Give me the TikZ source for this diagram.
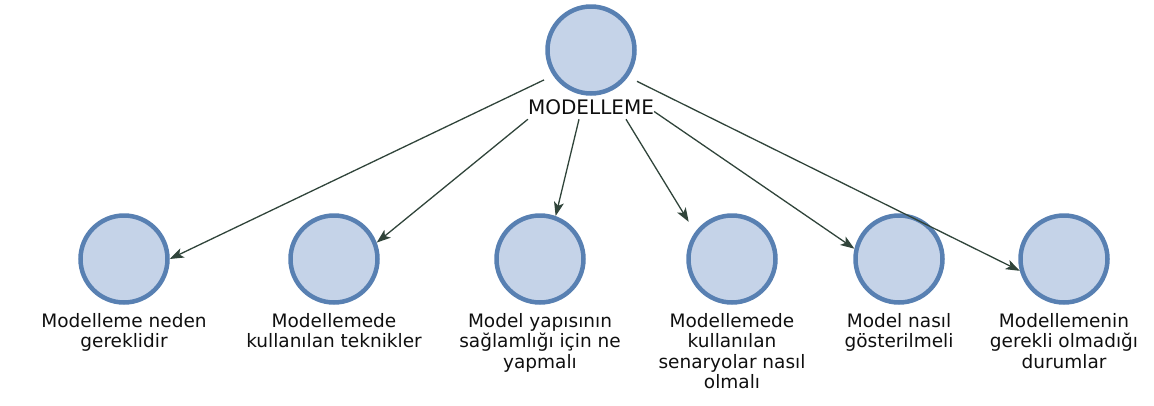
\documentclass[tikz,border=0pt]{standalone}
\usepackage{fontspec}
\setmainfont{DejaVu Sans}
\usepackage{tikz}
\usetikzlibrary{positioning,arrows.meta}

\definecolor{bubblefill}{RGB}{197,211,232}
\definecolor{bubbleline}{RGB}{88,128,178}
\definecolor{linkcol}{RGB}{48,68,58}
\definecolor{textcol}{RGB}{15,15,15}

\begin{document}
\begin{tikzpicture}[x=1pt, y=1pt,
    bubble/.style={circle, draw=bubbleline, fill=bubblefill, line width=4.5pt,
        minimum size=87pt, inner sep=0pt},
    caption/.style={align=center, inner sep=0pt, text=textcol,
        font=\fontsize{18.5}{20.5}\selectfont},
    link/.style={draw=linkcol, line width=1.3pt,
        -{Stealth[length=14pt, width=10pt, inset=3.5pt]}}]

    \useasboundingbox (0,0) rectangle (1154,-405);

    % root
    \node[bubble] (root) at (591,-50) {};
    \node[caption, inner ysep=4pt, below=0pt of root,
        font=\fontsize{20}{22}\selectfont] (lbl) {MODELLEME};

    % topics
    \node[bubble] (c1) at (124,-259) {};
    \node[bubble] (c2) at (334,-259) {};
    \node[bubble] (c3) at (540,-259) {};
    \node[bubble] (c4) at (732,-259) {};
    \node[bubble] (c5) at (899,-259) {};
    \node[bubble] (c6) at (1064,-259) {};

    \node[caption, below=8pt of c1] (t1) {Modelleme neden\\gereklidir};
    \node[caption, below=8pt of c2] (t2) {Modellemede\\kullanılan teknikler};
    \node[caption, below=8pt of c3] (t3) {Model yapısının\\sağlamlığı için ne\\yapmalı};
    \node[caption, below=8pt of c4] (t4) {Modellemede\\kullanılan\\senaryolar nasıl\\olmalı};
    \node[caption, below=8pt of c5] (t5) {Model nasıl\\gösterilmeli};
    \node[caption, below=8pt of c6] (t6) {Modellemenin\\gerekli olmadığı\\durumlar};

    \draw[link, shorten <=10pt] (root.214) -- (c1.0);
    \draw[link] (lbl.south west) -- (c2.21);
    \draw[link] ([xshift=-12pt]lbl.south) -- (c3.70);
    \draw[link, shorten >=12pt] ([xshift=35pt]lbl.south) -- (c4.144);
    \draw[link] ([yshift=-4pt]lbl.east) -- (c5.167);
    \draw[link, shorten <=10pt] (root.-36) -- (c6.195);
\end{tikzpicture}
\end{document}
